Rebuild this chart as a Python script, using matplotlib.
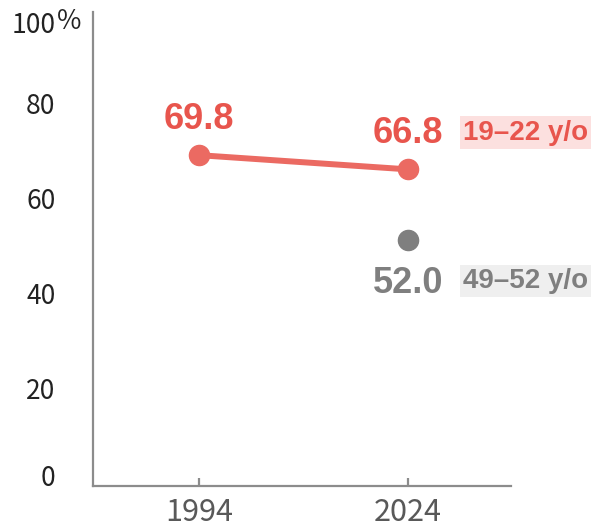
import matplotlib
matplotlib.use("Agg")
import matplotlib.pyplot as plt

years = [1994, 2024]
young_values = [69.8, 66.8]
older_years = [2024]
older_values = [52.0]
young_label = "19–22 y/o"
older_label = "49–52 y/o"
ytick_values = [0, 20, 40, 60, 80, 100]
ytick_labels = ["0", "20", "40", "60", "80", "100"]
xtick_labels = ["1994", "2024"]

RED_TEXT = "#E8554D"
RED_LINE = "#EB6A62"
GRAY = "#7F7F7F"
AXIS = "#8C8C8C"
CJK = ["Noto Sans CJK JP", "DejaVu Sans"]

fig = plt.figure(figsize=(5.91, 5.28), dpi=100)
ax = fig.add_axes([93 / 591, 42 / 528, (511 - 93) / 591, (486 - 12) / 528])

ax.plot(years, young_values, color=RED_LINE, lw=4.3, marker="o", ms=14.5,
        solid_capstyle="round", zorder=3, clip_on=False)
ax.plot(older_years, older_values, ls="none", color=GRAY, marker="o", ms=14.5,
        zorder=3, clip_on=False)

ax.set_xlim(1978.8, 2038.8)
ax.set_ylim(0, 100)

for s in ["top", "right"]:
    ax.spines[s].set_visible(False)
for s in ["left", "bottom"]:
    ax.spines[s].set_color(AXIS)
    ax.spines[s].set_linewidth(1.6)

ax.set_xticks(years)
ax.set_xticklabels(xtick_labels, fontsize=22, color="#595959", family=CJK)
ax.tick_params(axis="x", direction="in", length=6, width=1.6, color=AXIS, pad=8)

ax.set_yticks(ytick_values)
ax.set_yticklabels(ytick_labels, fontsize=19, color="#222222", family=CJK)
ax.tick_params(axis="y", length=0, pad=27)
for lab in ax.get_yticklabels():
    if lab.get_text() == "0":
        lab.set_va("baseline")
    elif lab.get_text() == "100":
        lab.set_va("top")
    else:
        lab.set_va("center")

ax.text(-0.058, 0.979, "％", transform=ax.transAxes, ha="center", va="center",
        fontsize=19, color="#222222", family=CJK)

bold = dict(family=["Liberation Sans", "DejaVu Sans"], fontweight="bold")
for x, v in zip(years, young_values):
    ax.annotate(f"{v:.1f}", (x, v), xytext=(0, 19), textcoords="offset points",
                ha="center", va="baseline", fontsize=26, color=RED_TEXT, **bold)
for x, v in zip(older_years, older_values):
    ax.annotate(f"{v:.1f}", (x, v), xytext=(0, -38.5), textcoords="offset points",
                ha="center", va="baseline", fontsize=26, color=GRAY, **bold)

ax.text(2031.9, 73.1, young_label, ha="left", va="baseline", fontsize=20,
        color=RED_TEXT, clip_on=False,
        bbox=dict(boxstyle="square,pad=0.12", fc="#FCE0DF", ec="none"), **bold)
ax.text(2031.9, 41.8, older_label, ha="left", va="baseline", fontsize=20,
        color=GRAY, clip_on=False,
        bbox=dict(boxstyle="square,pad=0.12", fc="#EFEFEF", ec="none"), **bold)

fig.savefig("out.png", dpi=100)
